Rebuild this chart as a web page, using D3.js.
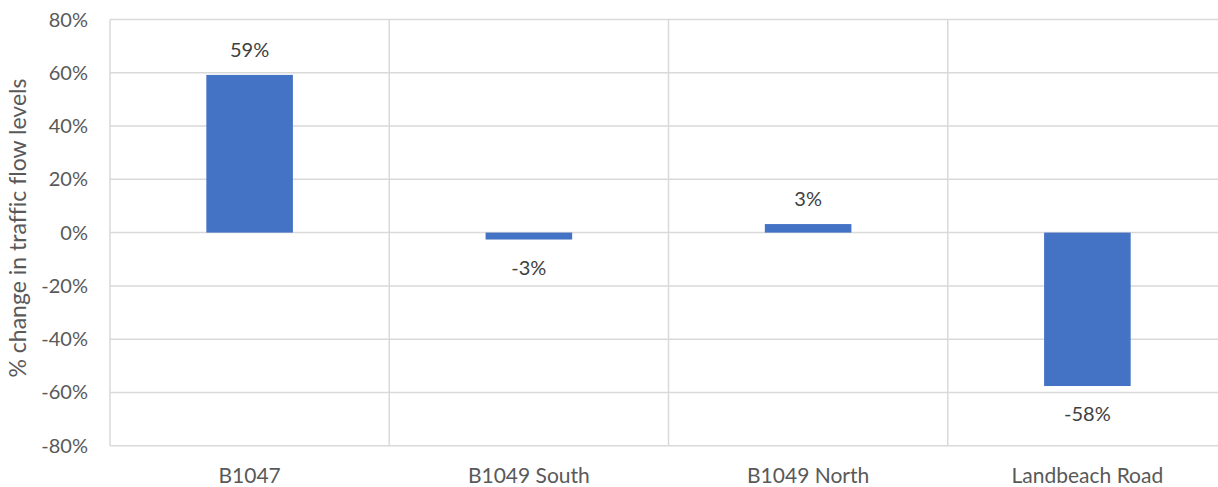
<!DOCTYPE html>
<html>
<head>
<meta charset="utf-8">
<script src="https://cdn.jsdelivr.net/npm/d3@7"></script>
<style>
  body { margin: 0; background: #fff; }
  svg text { font-family: Lato, "Open Sans", sans-serif; fill: #595959; font-variant-ligatures: none; }
</style>
</head>
<body>
<div id="mydraw"></div>
<script>
// data
var categories = ["B1047", "B1049 South", "B1049 North", "Landbeach Road"];
var changeValues = [0.592, -0.026, 0.032, -0.576];
var valueLabels = ["59%", "-3%", "3%", "-58%"];
var yTicks = [-0.8, -0.6, -0.4, -0.2, 0, 0.2, 0.4, 0.6, 0.8];

var width = 1218, height = 487;
var margin = { top: 19.5, right: -9, bottom: 41.3, left: 110 };

var svg = d3.select("div#mydraw").append("svg")
    .attr("width", width)
    .attr("height", height);

var x = d3.scaleBand()
    .domain(categories)
    .range([margin.left, width - margin.right])
    .paddingInner(0)
    .paddingOuter(0);

var y = d3.scaleLinear()
    .domain([-0.8, 0.8])
    .range([height - margin.bottom, margin.top]);

// horizontal gridlines
svg.append("g")
    .selectAll("line")
    .data(yTicks)
    .enter().append("line")
    .attr("x1", margin.left)
    .attr("x2", width - margin.right)
    .attr("y1", function(d) { return y(d); })
    .attr("y2", function(d) { return y(d); })
    .attr("stroke", "#d9d9d9")
    .attr("stroke-width", 1.5);

// vertical category separators
svg.append("g")
    .selectAll("line")
    .data(categories)
    .enter().append("line")
    .attr("x1", function(d) { return x(d); })
    .attr("x2", function(d) { return x(d); })
    .attr("y1", y(0.8))
    .attr("y2", y(-0.8))
    .attr("stroke", "#d9d9d9")
    .attr("stroke-width", 1.5);

// bars
var barW = x.bandwidth() * 0.31;
svg.append("g")
    .selectAll("rect")
    .data(changeValues)
    .enter().append("rect")
    .attr("x", function(d, i) { return x(categories[i]) + x.bandwidth() / 2 - barW / 2; })
    .attr("y", function(d) { return y(Math.max(0, d)); })
    .attr("width", barW)
    .attr("height", function(d) { return Math.abs(y(d) - y(0)); })
    .attr("fill", "#4472c4");

// value labels
svg.append("g")
    .selectAll("text")
    .data(changeValues)
    .enter().append("text")
    .attr("x", function(d, i) { return x(categories[i]) + x.bandwidth() / 2; })
    .attr("y", function(d) { return d >= 0 ? y(d) - 25 : y(d) + 28; })
    .attr("dy", "0.35em")
    .attr("text-anchor", "middle")
    .style("font-size", "20px")
    .style("fill", "#404040")
    .text(function(d, i) { return valueLabels[i]; });

// y tick labels
svg.append("g")
    .selectAll("text")
    .data(yTicks)
    .enter().append("text")
    .attr("x", margin.left - 22)
    .attr("y", function(d) { return y(d); })
    .attr("dy", "0.35em")
    .attr("text-anchor", "end")
    .style("font-size", "20px")
    .text(function(d) { return d3.format(".0%")(d).replace("−", "-"); });

// category labels
svg.append("g")
    .selectAll("text")
    .data(categories)
    .enter().append("text")
    .attr("x", function(d) { return x(d) + x.bandwidth() / 2; })
    .attr("y", 476)
    .attr("dy", "0.35em")
    .attr("text-anchor", "middle")
    .style("font-size", "21px")
    .text(function(d) { return d; });

// axis title
svg.append("text")
    .attr("transform", "translate(18,228) rotate(-90)")
    .attr("dy", "0.35em")
    .attr("text-anchor", "middle")
    .style("font-size", "23px")
    .text("% change in traffic flow levels");
</script>
</body>
</html>
